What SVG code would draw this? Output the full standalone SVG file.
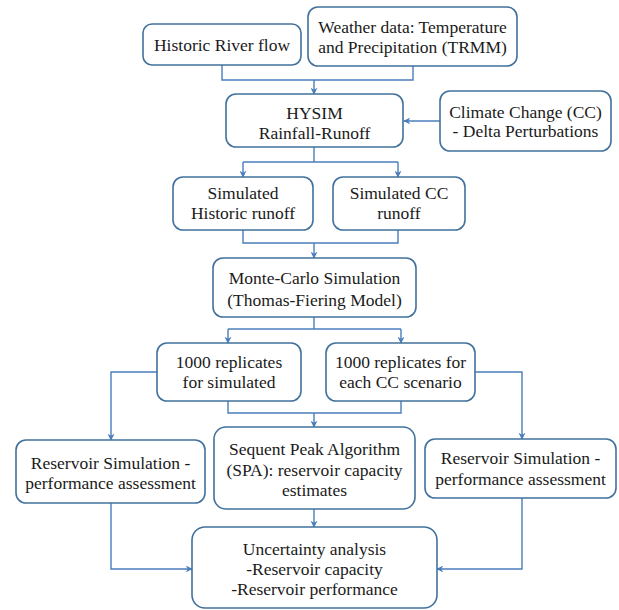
<svg xmlns="http://www.w3.org/2000/svg" width="619" height="610" viewBox="0 0 619 610">
<style>
.box{fill:#fff;stroke:#41719C;stroke-width:1.6}
text{font-family:'Liberation Serif','DejaVu Serif',serif;font-size:17.5px;fill:#1a1a1a;text-anchor:middle}
.c{fill:none;stroke:#4A7EBB;stroke-width:1.4}
</style>
<defs>
<marker id="ah" viewBox="0 0 10 10" refX="9" refY="5" markerWidth="7" markerHeight="7" orient="auto" markerUnits="userSpaceOnUse">
<path d="M0,0 L10,5 L0,10 L3,5 z" fill="#4A7EBB"/>
</marker>
</defs>
<rect width="619" height="610" fill="#fff"/>
<g id="connectors">
<path class="c" d="M222,65 V80 H413 V66"/>
<path class="c" d="M314,80 V94" marker-end="url(#ah)"/>
<path class="c" d="M440,121 H404" marker-end="url(#ah)"/>
<path class="c" d="M314,147 V162"/>
<path class="c" d="M243,162 H398"/>
<path class="c" d="M243,162 V177" marker-end="url(#ah)"/>
<path class="c" d="M398,162 V177" marker-end="url(#ah)"/>
<path class="c" d="M243,230 V243 H398 V230"/>
<path class="c" d="M314,243 V258" marker-end="url(#ah)"/>
<path class="c" d="M314,317 V329"/>
<path class="c" d="M228,329 H401"/>
<path class="c" d="M228,329 V343" marker-end="url(#ah)"/>
<path class="c" d="M401,329 V343" marker-end="url(#ah)"/>
<path class="c" d="M157,372 H111 V440" marker-end="url(#ah)"/>
<path class="c" d="M475,372 H522 V439" marker-end="url(#ah)"/>
<path class="c" d="M228,401 V413 H401 V401"/>
<path class="c" d="M314,413 V427" marker-end="url(#ah)"/>
<path class="c" d="M314,509 V527" marker-end="url(#ah)"/>
<path class="c" d="M111,503 V569 H192" marker-end="url(#ah)"/>
<path class="c" d="M522,498 V569 H437" marker-end="url(#ah)"/>
</g>
<g id="historic-flow"><rect class="box" x="143" y="24" width="158" height="41" rx="9"/><text x="222" y="51">Historic River flow</text></g>
<g id="weather"><rect class="box" x="308" y="7" width="209" height="59" rx="10"/><text x="412.5" y="33">Weather data: Temperature</text><text x="412.5" y="53">and Precipitation (TRMM)</text></g>
<g id="hysim"><rect class="box" x="226" y="94" width="177" height="53" rx="10"/><text x="314.5" y="119">HYSIM</text><text x="314.5" y="139">Rainfall-Runoff</text></g>
<g id="climate"><rect class="box" x="440" y="91" width="171" height="60" rx="10"/><text x="525.5" y="118">Climate Change (CC)</text><text x="525.5" y="137">- Delta Perturbations</text></g>
<g id="sim-historic"><rect class="box" x="173" y="177" width="140" height="53" rx="10"/><text x="243" y="199">Simulated</text><text x="243" y="219">Historic runoff</text></g>
<g id="sim-cc"><rect class="box" x="333" y="177" width="132" height="53" rx="10"/><text x="399" y="199">Simulated CC</text><text x="399" y="219">runoff</text></g>
<g id="monte-carlo"><rect class="box" x="213" y="258" width="203" height="59" rx="10"/><text x="314.5" y="284">Monte-Carlo Simulation</text><text x="314.5" y="306">(Thomas-Fiering Model)</text></g>
<g id="rep-sim"><rect class="box" x="157" y="343" width="144" height="58" rx="10"/><text x="229" y="368">1000 replicates</text><text x="229" y="388">for simulated</text></g>
<g id="rep-cc"><rect class="box" x="326" y="343" width="149" height="58" rx="10"/><text x="400.5" y="368">1000 replicates for</text><text x="400.5" y="388">each CC scenario</text></g>
<g id="res-left"><rect class="box" x="16" y="440" width="189" height="63" rx="10"/><text x="110.5" y="469">Reservoir Simulation -</text><text x="110.5" y="489">performance assessment</text></g>
<g id="spa"><rect class="box" x="214" y="427" width="201" height="82" rx="12"/><text x="314.5" y="455">Sequent Peak Algorithm</text><text x="314.5" y="476">(SPA): reservoir capacity</text><text x="314.5" y="496">estimates</text></g>
<g id="res-right"><rect class="box" x="425" y="439" width="191" height="59" rx="10"/><text x="520.5" y="464">Reservoir Simulation -</text><text x="520.5" y="485">performance assessment</text></g>
<g id="uncertainty"><rect class="box" x="192" y="527" width="245" height="81" rx="13"/><text x="314.5" y="555">Uncertainty analysis</text><text x="314.5" y="575">-Reservoir capacity</text><text x="314.5" y="595">-Reservoir performance</text></g>
</svg>
